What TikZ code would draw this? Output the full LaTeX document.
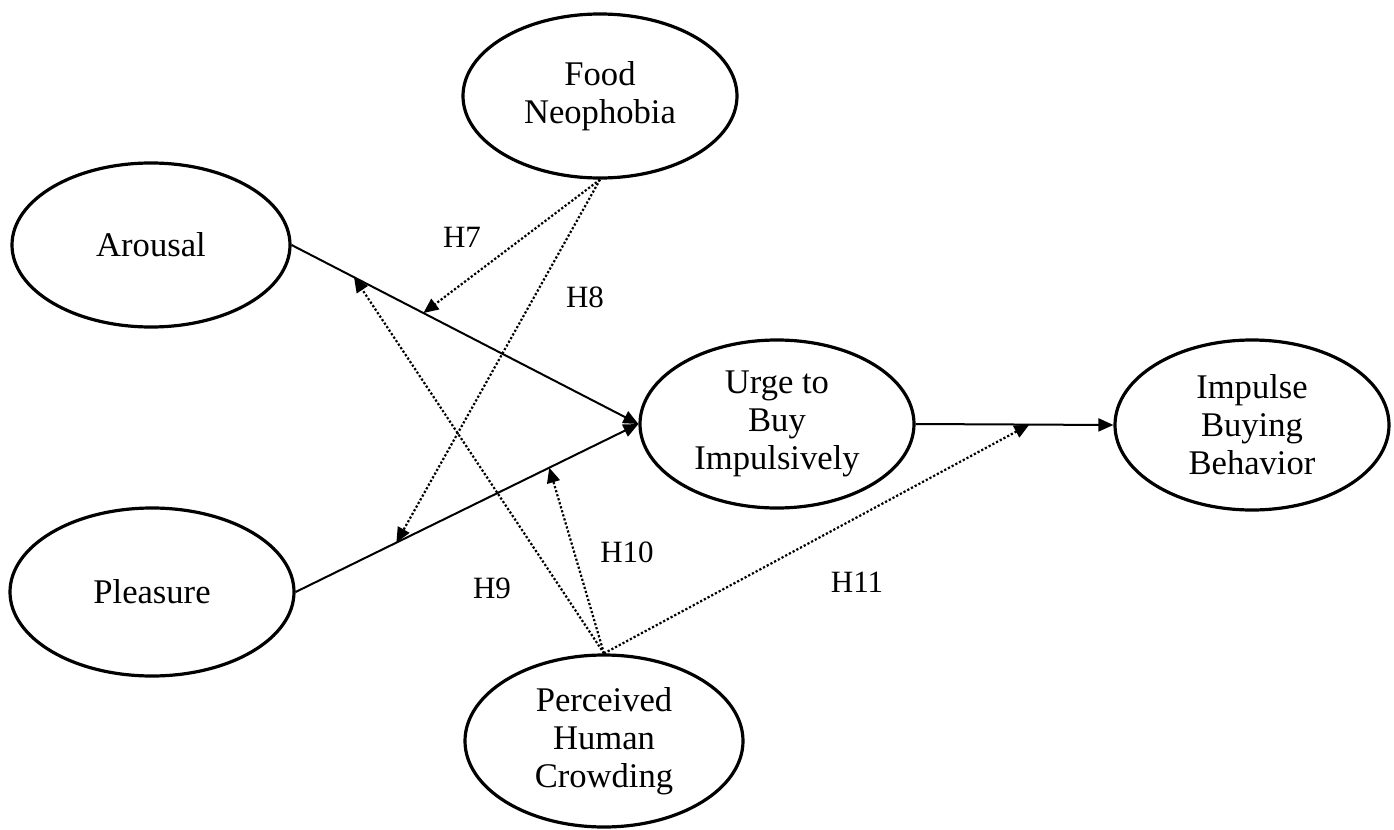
\documentclass[tikz,border=0pt]{standalone}
\usepackage{fontspec}
\setmainfont{Liberation Serif}
\usetikzlibrary{arrows.meta,calc,shapes.geometric}
\begin{document}
\begin{tikzpicture}[x=0.5pt,y=-0.5pt,
  construct/.style={ellipse,draw,line width=1.6pt,inner sep=0pt,align=center,
     font=\fontsize{17.3}{19}\selectfont},
  solidarr/.style={line width=1pt,-{Triangle[length=7.5pt,width=6.5pt]}},
  dotarr/.style={line width=1.1pt,dash pattern=on 1.1pt off 1pt,-{Triangle[length=7.5pt,width=6.5pt]}},
  hlabel/.style={font=\fontsize{15.5}{18}\selectfont,inner sep=0pt}]
\useasboundingbox (0,0) rectangle (1394,830);
\node[construct,minimum width=137pt,minimum height=82pt] (fn) at (600,96) {Food\\Neophobia};
\node[construct,minimum width=139pt,minimum height=82pt] (ar) at (151,245) {Arousal};
\node[construct,minimum width=142pt,minimum height=84pt] (pl) at (152,592) {Pleasure};
\node[construct,minimum width=137pt,minimum height=84pt] (ur) at (777,424) {Urge to\\Buy\\Impulsively};
\node[construct,minimum width=137pt,minimum height=85pt] (ib) at (1252,425) {Impulse\\Buying\\Behavior};
\node[construct,minimum width=139pt,minimum height=86pt] (pc) at (604,741) {Perceived\\Human\\Crowding};
\draw[solidarr] (ar.east) -- (ur.west);
\draw[solidarr] (pl.east) -- (ur.west);
\draw[solidarr] (ur.east) -- (ib.west);
\coordinate (m7) at ($(ar.east)!0.38!(ur.west)$);
\coordinate (m9) at ($(ar.east)!0.18!(ur.west)$);
\coordinate (m8) at ($(pl.east)!0.294!(ur.west)$);
\coordinate (m10) at ($(pl.east)!0.74!(ur.west)$);
\coordinate (m11) at ($(ur.east)!0.575!(ib.west)$);
\draw[dotarr] (fn.south) -- (m7);
\draw[dotarr] (fn.south) -- (m8);
\draw[dotarr] (pc.north) -- (m9);
\draw[dotarr] (pc.north) -- (m10);
\draw[dotarr] (pc.north) -- (m11);
\node[hlabel] (h7) at (462,237) {H7};
\node[hlabel] (h8) at (585,297) {H8};
\node[hlabel] (h9) at (492,588) {H9};
\node[hlabel] (h10) at (627,552) {H10};
\node[hlabel] (h11) at (857,582) {H11};
\end{tikzpicture}
\end{document}
